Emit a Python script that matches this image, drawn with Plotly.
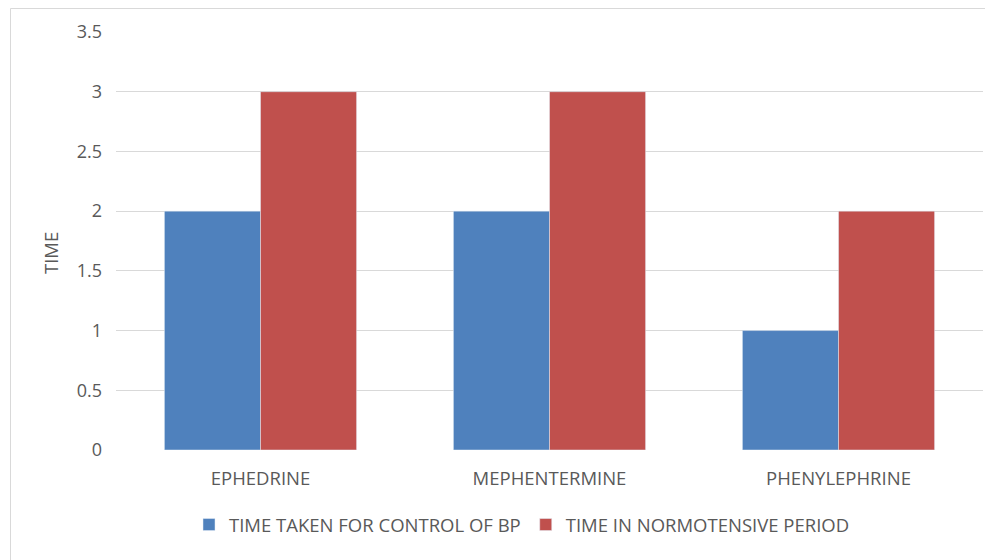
import plotly.graph_objects as go

categories = ["EPHEDRINE", "MEPHENTERMINE", "PHENYLEPHRINE"]
control_bp = [2, 2, 1]
normotensive = [3, 3, 2]
series_names = ["TIME TAKEN FOR CONTROL OF BP", "TIME IN NORMOTENSIVE PERIOD"]
y_ticks = [0, 0.5, 1, 1.5, 2, 2.5, 3, 3.5]
y_tick_labels = ["0", "0.5", "1", "1.5", "2", "2.5", "3", "3.5"]

# page body has an 8px margin; figure coords = screen coords - 8
W, H = 985, 552
L, R, T, B = 108, 10, 24, 110
pw, ph = W - L - R, H - T - B

fig = go.Figure()
fig.add_trace(go.Bar(x=categories, y=control_bp, name=series_names[0], marker_color="#4F81BD"))
fig.add_trace(go.Bar(x=categories, y=normotensive, name=series_names[1], marker_color="#C0504D"))

font = "Open Sans, Segoe UI, sans-serif"
fig.update_layout(
    width=W, height=H,
    margin=dict(l=L, r=R, t=T, b=B),
    paper_bgcolor="white", plot_bgcolor="white",
    barmode="group", bargap=0.335, bargroupgap=0,
    font=dict(family=font, color="#595959", size=18),
    xaxis=dict(showgrid=False, showline=False, ticks="", tickfont=dict(size=18.5), ticklabelstandoff=15),
    yaxis=dict(range=[0, 3.5], tickvals=y_ticks, ticktext=y_tick_labels, showgrid=True,
               gridcolor="#d9d9d9", gridwidth=1, zeroline=False, showline=False, ticks="",
               tickfont=dict(size=18), ticklabelstandoff=13),
    legend=dict(orientation="h", x=(514 - L) / pw, xanchor="center",
                y=-(517 - (H - B)) / ph, yanchor="middle", font=dict(size=18.5),
                itemwidth=30, traceorder="normal"),
    showlegend=True,
)
fig.add_annotation(text="TIME", textangle=-90, xref="paper", yref="paper",
                   x=(42 - L) / pw, y=1 - (245 - T) / ph, xanchor="center", yanchor="middle",
                   showarrow=False, font=dict(size=18.5, color="#595959"))
fig.add_shape(type="rect", xref="paper", yref="paper",
              x0=(2.5 - L) / pw, x1=1 + (1010 - (W - R)) / pw,
              y0=-(600 - (H - B)) / ph, y1=1 + (T - 0.5) / ph,
              line=dict(color="#d9d9d9", width=1), fillcolor="rgba(0,0,0,0)", layer="below")
fig.write_html("out.html")
